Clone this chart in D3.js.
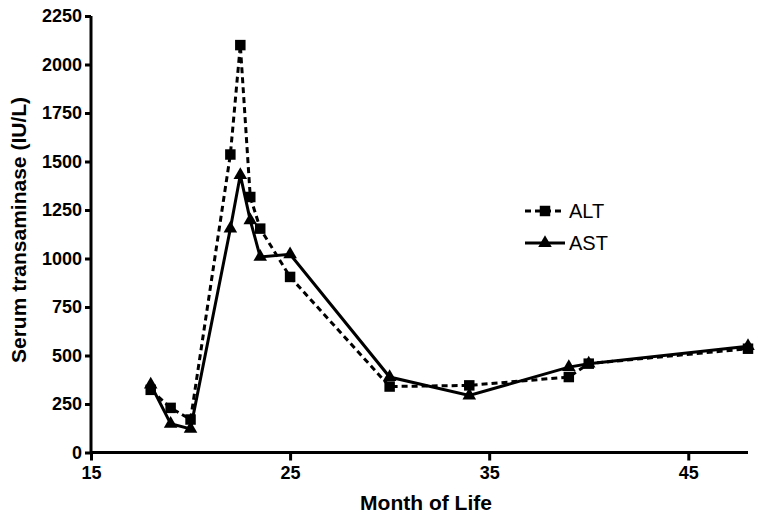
<!DOCTYPE html>
<html>
<head>
<meta charset="utf-8">
<script src="https://cdn.jsdelivr.net/npm/d3@7"></script>
<style>
html,body{margin:0;padding:0;background:#fff;}
svg{display:block;}
</style>
</head>
<body>
<svg id="chart" width="762" height="520"></svg>
<script>
const altMonths = [18, 19, 20, 22, 22.5, 23, 23.5, 25, 30, 34, 39, 40, 48];
const altValues = [323, 230, 170, 1536, 2100, 1317, 1154, 905, 340, 346, 389, 458, 535];
const astMonths = [18, 19, 20, 22, 22.5, 23, 23.5, 25, 30, 34, 39, 40, 48];
const astValues = [350, 148, 122, 1154, 1430, 1197, 1008, 1022, 389, 294, 440, 458, 548];
const xTicks = [15, 25, 35, 45];
const yTicks = [0, 250, 500, 750, 1000, 1250, 1500, 1750, 2000, 2250];
const seriesNames = ["ALT", "AST"];

const svg = d3.select("#chart");
const x = d3.scaleLinear().domain([15, 48]).range([91, 748]);
const y = d3.scaleLinear().domain([0, 2250]).range([452.5, 16]);
const font = "'Liberation Sans', Arial, sans-serif";

// axes
const gx = svg.append("g").attr("transform", "translate(0," + y(0) + ")")
  .call(d3.axisBottom(x).tickValues(xTicks).tickSize(8).tickPadding(6).tickFormat(d3.format("d")));
const gy = svg.append("g").attr("transform", "translate(" + x(15) + ",0)")
  .call(d3.axisLeft(y).tickValues(yTicks).tickSize(6).tickPadding(3).tickFormat(d3.format("d")));
[gx, gy].forEach(g => {
  g.select(".domain").attr("stroke", "#000").attr("stroke-width", 3);
  g.selectAll(".tick line").attr("stroke", "#000").attr("stroke-width", 3);
  g.selectAll(".tick text").attr("fill", "#000").style("font-family", font)
    .style("font-size", "18px").style("font-weight", "bold");
});
gx.select(".domain").attr("d", "M" + x(15) + ",0H" + x(48));
gy.select(".domain").attr("d", "M0," + y(2250) + "V" + y(0));

// axis titles
svg.append("text").attr("x", 426).attr("y", 510).attr("text-anchor", "middle")
  .style("font-family", font).style("font-size", "21px").style("font-weight", "bold")
  .text("Month of Life");
svg.append("text").attr("transform", "translate(26,230) rotate(-90)").attr("text-anchor", "middle")
  .style("font-family", font).style("font-size", "21px").style("font-weight", "bold")
  .text("Serum transaminase (IU/L)");

const altData = altMonths.map((m, i) => [m, altValues[i]]);
const astData = astMonths.map((m, i) => [m, astValues[i]]);
const line = d3.line().x(d => x(d[0])).y(d => y(d[1]));

svg.append("path").datum(altData).attr("d", line).attr("fill", "none")
  .attr("stroke", "#000").attr("stroke-width", 3).attr("stroke-dasharray", "6,4");
svg.append("path").datum(astData).attr("d", line).attr("fill", "none")
  .attr("stroke", "#000").attr("stroke-width", 3);

const sq = d3.symbol().type(d3.symbolSquare).size(110);
const tri = d3.symbol().type(d3.symbolTriangle).size(80);
svg.append("g").selectAll("path").data(altData).join("path")
  .attr("d", sq).attr("transform", d => "translate(" + x(d[0]) + "," + y(d[1]) + ")").attr("fill", "#000");
svg.append("g").selectAll("path").data(astData).join("path")
  .attr("d", tri).attr("transform", d => "translate(" + x(d[0]) + "," + y(d[1]) + ")").attr("fill", "#000");

// legend
const leg = svg.append("g");
const legY = [211, 243];
seriesNames.forEach((name, i) => {
  leg.append("line").attr("x1", 525).attr("x2", 565).attr("y1", legY[i]).attr("y2", legY[i])
    .attr("stroke", "#000").attr("stroke-width", 3).attr("stroke-dasharray", i === 0 ? "6,4" : null);
  leg.append("path").attr("d", i === 0 ? sq : tri).attr("transform", "translate(545," + legY[i] + ")").attr("fill", "#000");
  leg.append("text").attr("x", 569).attr("y", legY[i] + 7).style("font-family", font)
    .style("font-size", "20px").attr("fill", "#000").text(name);
});
</script>
</body>
</html>
